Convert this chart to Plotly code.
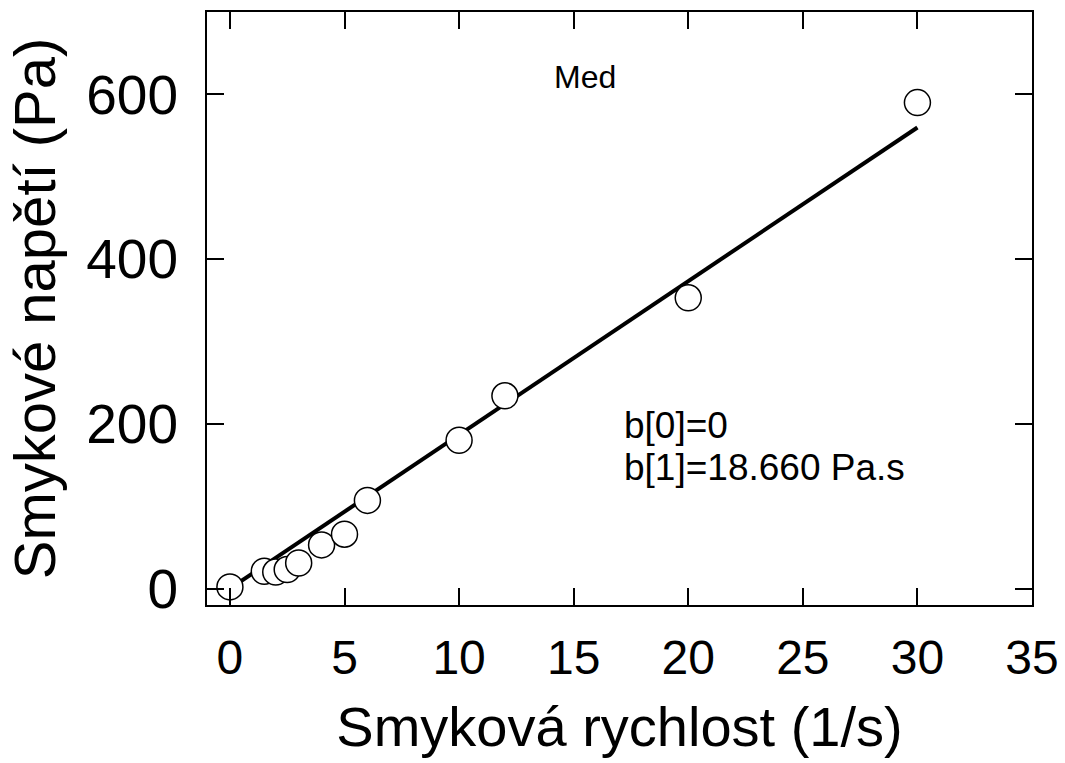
import plotly.graph_objects as go

shear_rate = [0, 1.5, 2, 2.5, 3, 4, 5, 6, 10, 12, 20, 30]
shear_stress = [2, 21, 20, 23, 31, 53, 66, 107, 180, 234, 353, 590]
fit_x = [0, 30]
fit_y = [0, 559.8]
x_ticks = [0, 5, 10, 15, 20, 25, 30, 35]
y_ticks = [0, 200, 400, 600]

FONT = "Liberation Sans, Arial, sans-serif"

fig = go.Figure()
fig.add_trace(go.Scatter(x=fit_x, y=fit_y, mode="lines",
                         line=dict(color="black", width=4), showlegend=False))
fig.add_trace(go.Scatter(x=shear_rate, y=shear_stress, mode="markers",
                         marker=dict(symbol="circle", size=26, color="white",
                                     line=dict(color="black", width=1.5)),
                         showlegend=False))

fig.add_annotation(x=15.5, y=621, text="Med", showarrow=False,
                   font=dict(family=FONT, size=32, color="black"),
                   xanchor="center", yanchor="middle")
fig.add_annotation(x=17.1, y=198, text="b[0]=0", showarrow=False,
                   font=dict(family=FONT, size=37, color="black"),
                   xanchor="left", yanchor="middle")
fig.add_annotation(x=17.1, y=147, text="b[1]=18.660 Pa.s", showarrow=False,
                   font=dict(family=FONT, size=37, color="black"),
                   xanchor="left", yanchor="middle")

fig.update_layout(
    width=1065, height=763,
    margin=dict(l=207, r=33, t=12, b=158),
    paper_bgcolor="white", plot_bgcolor="white",
    font=dict(family=FONT, color="black"),
    xaxis=dict(range=[-1, 35], tickvals=x_ticks, ticks="inside", ticklen=17,
               tickwidth=2, tickcolor="black", showline=True, linecolor="black",
               linewidth=2, mirror="ticks", showgrid=False, zeroline=False,
               automargin=False,
               tickfont=dict(size=48, family=FONT), ticklabelstandoff=9,
               title=dict(text="Smyková rychlost (1/s)", font=dict(size=56, family=FONT),
                          standoff=24)),
    yaxis=dict(range=[-20, 700], tickvals=y_ticks, ticks="inside", ticklen=17,
               tickwidth=2, tickcolor="black", showline=True, linecolor="black",
               linewidth=2, mirror="ticks", showgrid=False, zeroline=False,
               automargin=False,
               tickfont=dict(size=55, family=FONT), ticklabelstandoff=16,
               title=dict(text="Smykové napětí (Pa)", font=dict(size=58, family=FONT),
                          standoff=12)),
)

fig.write_html("out.html")
